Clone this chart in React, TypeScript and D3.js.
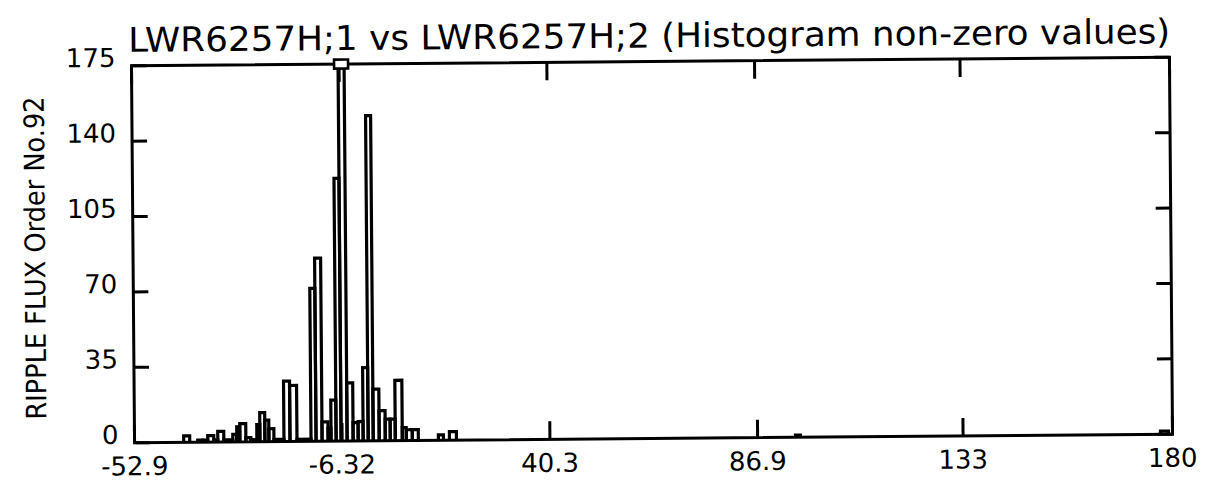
import React from 'react';
import * as d3 from 'd3';

const titleText = 'LWR6257H;1 vs LWR6257H;2 (Histogram non-zero values)';
const yTitleText = 'RIPPLE FLUX Order No.92';
const xDomain = [-52.9, 180];
const yDomain = [0, 175];
const xTickValues = [-52.9, -6.32, 40.3, 86.9, 133, 180];
const xTickLabels = ['-52.9', '-6.32', '40.3', '86.9', '133', '180'];
const yTickValues = [0, 35, 70, 105, 140, 175];
const yTickLabels = ['0', '35', '70', '105', '140', '175'];

// histogram bins (lower edge, upper edge) and counts
const binLo = [
  -41.87, -38.72, -37.6, -36.47, -35.12, -34.22, -32.87, -30.85, -29.95, -29.27,
  -27.92, -26.8, -25.45, -24.77, -23.65, -22.75, -21.62, -19.37, -18.02, -16.45,
  -13.3, -12.17, -10.82, -9.47, -8.8, -7.67, -6.55, -5.2, -3.85, -2.72,
  -1.6, -0.47, 0.66, 2.0, 3.36, 4.48, 5.61, 7.18, 8.08, 9.43,
  15.28, 17.76, 95.4, 177.3,
];
const binHi = [
  -40.52, -37.6, -36.47, -35.12, -34.22, -32.87, -30.85, -29.95, -29.27, -27.92,
  -26.8, -25.45, -24.77, -23.65, -22.75, -21.62, -19.37, -18.02, -16.45, -13.3,
  -12.17, -10.82, -9.47, -8.8, -7.67, -6.55, -5.2, -3.85, -2.72, -1.6,
  -0.47, 0.66, 2.0, 3.36, 4.48, 5.61, 7.18, 8.08, 9.43, 10.78,
  16.41, 19.33, 96.5, 179.1,
];
const counts = [
  3, 1, 1, 3, 1, 5, 1, 3.5, 7, 8.5,
  2, 1, 8, 13.5, 10, 6, 1, 28, 26, 1,
  71, 85, 9, 6, 19, 122, 181, 27, 8.5, 9,
  34, 151, 24, 14, 10, 10, 28, 6, 5, 5,
  2.5, 4, 1, 1.5,
];

export default function App() {
  const W = 1210;
  const H = 483;
  const left = 133, right = 1171, top = 61.5, bottom = 438.5;
  const x = d3.scaleLinear().domain(xDomain).range([left, right]);
  const y = d3.scaleLinear().domain(yDomain).range([bottom, top]);
  const font = "'DejaVu Sans', sans-serif";
  const sw = 3.2;
  const yMax = yDomain[1];

  const bars = counts.map((c, i) => {
    const v = Math.min(c, yMax);
    return {
      d: `M${x(binLo[i])},${y(0)}V${y(v)}H${x(binHi[i])}V${y(0)}`,
      over: c > yMax,
      cx: (x(binLo[i]) + x(binHi[i])) / 2,
    };
  });

  return (
    <svg width={W} height={H} style={{ position: 'absolute', left: 0, top: 0, background: '#fff' }}>
      <rect x={0} y={0} width={W} height={H} fill="#fff" />
      <g transform="rotate(-0.47, 652, 250)">
        <text x={130} y={47.5} fontFamily={font} fontSize={34} textLength={1042} lengthAdjust="spacingAndGlyphs" fill="#000">
          {titleText}
        </text>
        <text transform={`translate(45,253) rotate(-90)`} textAnchor="middle" fontFamily={font} fontSize={28} textLength={323} lengthAdjust="spacingAndGlyphs" fill="#000">
          {yTitleText}
        </text>
        {/* bars */}
        <g fill="none" stroke="#000" strokeWidth={sw}>
          {bars.map((b, i) => (
            <path key={i} d={b.d} />
          ))}
        </g>
        {/* frame */}
        <rect x={left} y={top} width={right - left} height={bottom - top} fill="none" stroke="#000" strokeWidth={3} />
        {/* y ticks */}
        {yTickValues.map((v, i) => (
          <g key={'y' + i}>
            <line x1={left} x2={left + 15} y1={y(v)} y2={y(v)} stroke="#000" strokeWidth={3} />
            <line x1={right} x2={right - 15} y1={y(v)} y2={y(v)} stroke="#000" strokeWidth={3} />
            <text x={117} y={y(v) + 1} textAnchor="end" fontFamily={font} fontSize={26} fill="#000">
              {yTickLabels[i]}
            </text>
          </g>
        ))}
        {/* x ticks */}
        {xTickValues.map((v, i) => (
          <g key={'x' + i}>
            <line x1={x(v)} x2={x(v)} y1={bottom} y2={bottom - 18} stroke="#000" strokeWidth={3} />
            <line x1={x(v)} x2={x(v)} y1={top} y2={top + 18} stroke="#000" strokeWidth={3} />
            <text x={x(v)} y={471} textAnchor="middle" fontFamily={font} fontSize={26} fill="#000">
              {xTickLabels[i]}
            </text>
          </g>
        ))}
        {/* overflow markers */}
        {bars.filter((b) => b.over).map((b, i) => (
          <rect key={'o' + i} x={b.cx - 7} y={top - 4.5} width={14} height={9} fill="#fff" stroke="#000" strokeWidth={2.6} />
        ))}
      </g>
    </svg>
  );
}
